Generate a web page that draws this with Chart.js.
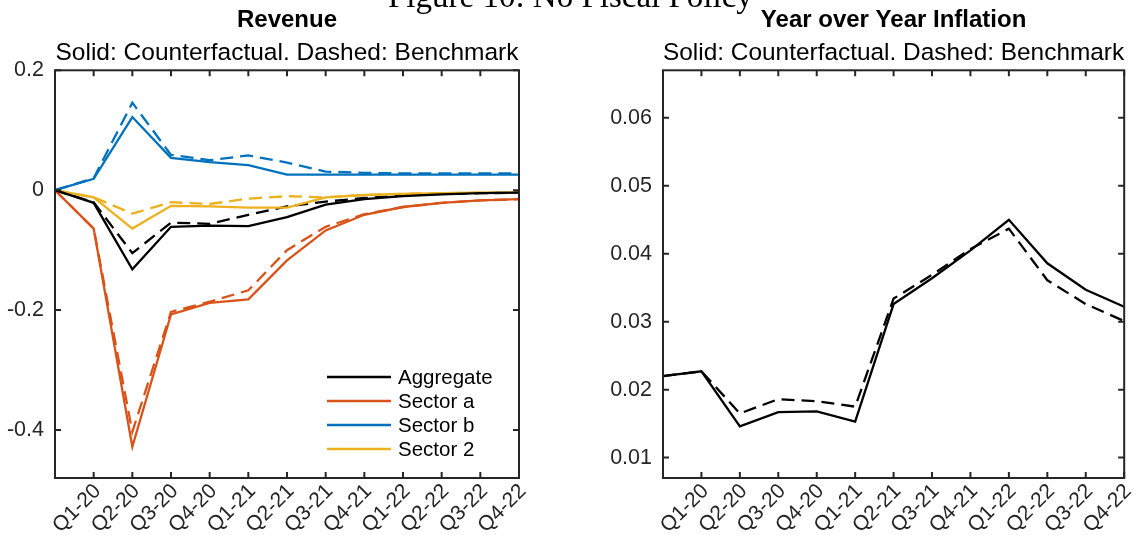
<!DOCTYPE html>
<html>
	<head>
		<meta charset="UTF-8" />
		<title>Figure 10: No Fiscal Policy</title>
		<script src="https://cdn.jsdelivr.net/npm/chart.js@4"></script>
		<style type="text/css">
			body {
				margin: 0;
				width: 1143px;
				height: 535px;
				overflow: hidden;
				background: #fff;
				position: relative;
			}
			.caption {
				position: absolute;
				left: 388px;
				top: -20px;
				font-family: "Liberation Serif", serif;
				font-size: 33px;
				line-height: 33px;
				white-space: nowrap;
				color: #000;
				z-index: 2;
			}
			#revChart {
				position: absolute;
				left: 0;
				top: 0;
			}
			#inflChart {
				position: absolute;
				left: 571px;
				top: 0;
			}
		</style>
	</head>
	<body>
		<div class="caption">Figure 10: No Fiscal Policy</div>
		<canvas id="revChart" width="571" height="535"></canvas>
		<canvas id="inflChart" width="572" height="535"></canvas>

		<script>
			// quarters on the x axis (first point is the pre-shock start, no label)
			const quarters = ['', 'Q1-20', 'Q2-20', 'Q3-20', 'Q4-20', 'Q1-21', 'Q2-21',
				'Q3-21', 'Q4-21', 'Q1-22', 'Q2-22', 'Q3-22', 'Q4-22'];

			// Revenue: solid = counterfactual, dashed = benchmark
			const aggCf  = [0, -0.021, -0.132, -0.061, -0.059, -0.060, -0.045, -0.024, -0.015, -0.010, -0.007, -0.005, -0.004];
			const aggBm  = [0, -0.020, -0.105, -0.054, -0.056, -0.041, -0.027, -0.019, -0.013, -0.009, -0.006, -0.005, -0.004];
			const secACf = [0, -0.064, -0.428, -0.207, -0.188, -0.182, -0.117, -0.067, -0.041, -0.028, -0.021, -0.017, -0.015];
			const secABm = [0, -0.064, -0.403, -0.203, -0.186, -0.167, -0.100, -0.061, -0.040, -0.028, -0.021, -0.017, -0.015];
			const secBCf = [0, 0.019, 0.122, 0.054, 0.047, 0.042, 0.026, 0.026, 0.026, 0.026, 0.026, 0.026, 0.026];
			const secBBm = [0, 0.020, 0.146, 0.059, 0.050, 0.058, 0.046, 0.031, 0.029, 0.028, 0.028, 0.028, 0.028];
			const sec2Cf = [0, -0.012, -0.064, -0.026, -0.027, -0.029, -0.029, -0.012, -0.008, -0.006, -0.005, -0.004, -0.004];
			const sec2Bm = [0, -0.012, -0.039, -0.020, -0.023, -0.014, -0.010, -0.012, -0.008, -0.006, -0.005, -0.004, -0.004];

			// Year over year inflation
			const inflCf = [0.0220, 0.0227, 0.0146, 0.0167, 0.0168, 0.0153, 0.0326, 0.0364, 0.0405, 0.0450, 0.0386, 0.0347, 0.0322];
			const inflBm = [0.0220, 0.0227, 0.0165, 0.0186, 0.0183, 0.0175, 0.0334, 0.0369, 0.0407, 0.0437, 0.0361, 0.0326, 0.0301];

			const revTicks = [-0.4, -0.2, 0, 0.2];
			const inflTicks = [0.01, 0.02, 0.03, 0.04, 0.05, 0.06];
			const subTitle = 'Solid: Counterfactual. Dashed: Benchmark';
		</script>

		<script>
		Chart.defaults.font.family = '"Liberation Sans", Arial, sans-serif';
		Chart.defaults.color = '#262626';

		const axisColor = '#262626';
		const dash = [13, 7];

		// box round the axes with inward ticks on all four sides (matlab style)
		const framePlugin = {
			id: 'frame',
			afterDatasetsDraw(chart) {
				const ctx = chart.ctx;
				const a = chart.chartArea;
				const x = chart.scales.x;
				const y = chart.scales.y;
				ctx.save();
				ctx.strokeStyle = axisColor;
				ctx.lineWidth = 2;
				ctx.beginPath();
				for (let i = 0; i < x.ticks.length; i++) {
					const px = x.getPixelForTick(i);
					ctx.moveTo(px, a.bottom); ctx.lineTo(px, a.bottom - 6);
					ctx.moveTo(px, a.top); ctx.lineTo(px, a.top + 6);
				}
				y.ticks.forEach(t => {
					const py = y.getPixelForValue(t.value);
					ctx.moveTo(a.left, py); ctx.lineTo(a.left + 6, py);
					ctx.moveTo(a.right, py); ctx.lineTo(a.right - 6, py);
				});
				ctx.stroke();
				ctx.strokeRect(a.left, a.top, a.right - a.left, a.bottom - a.top);
				ctx.restore();
			}
		};

		// legend inside the lower right of the revenue axes, solid lines only
		const innerLegend = {
			id: 'innerLegend',
			afterDraw(chart) {
				const ctx = chart.ctx;
				const a = chart.chartArea;
				const x0 = a.right - 192;
				let y0 = a.bottom - 101;
				ctx.save();
				ctx.font = '20.5px "Liberation Sans", Arial, sans-serif';
				ctx.textBaseline = 'middle';
				ctx.fillStyle = '#000';
				chart.data.datasets.filter(d => !d.benchmark).forEach(d => {
					ctx.strokeStyle = d.borderColor;
					ctx.lineWidth = 2.3;
					ctx.beginPath();
					ctx.moveTo(x0, y0);
					ctx.lineTo(x0 + 64, y0);
					ctx.stroke();
					ctx.fillText(d.label, x0 + 71, y0 + 1);
					y0 += 24;
				});
				ctx.restore();
			}
		};

		function line(label, data, color, benchmark) {
			return {
				label: label,
				data: data,
				borderColor: color,
				borderWidth: 2.3,
				borderDash: benchmark ? dash : [],
				pointRadius: 0,
				tension: 0,
				fill: false,
				benchmark: benchmark
			};
		}

		function makeOptions(title, yMin, yMax, yTicks, fmt, yWidth, padRight) {
			return {
				responsive: false,
				animation: false,
				devicePixelRatio: 1,
				layout: { padding: { left: 0, right: padRight, top: 0, bottom: 0 } },
				plugins: {
					legend: { display: false },
					tooltip: { enabled: false },
					title: {
						display: true,
						fullSize: false,
						text: title,
						color: '#000',
						font: { size: 24, weight: 'bold' },
						padding: { top: 6, bottom: 0 }
					},
					subtitle: {
						display: true,
						fullSize: false,
						text: subTitle,
						color: '#000',
						font: { size: 24.5, weight: 'normal' },
						padding: { top: 4, bottom: 2.1 }
					}
				},
				scales: {
					x: {
						type: 'category',
						offset: false,
						grid: { display: false, drawTicks: false },
						border: { display: false },
						ticks: {
							autoSkip: false,
							minRotation: 45,
							maxRotation: 45,
							padding: 1,
							labelOffset: 4,
							color: axisColor,
							font: { size: 21 }
						},
						afterFit: s => { s.height = 57; }
					},
					y: {
						type: 'linear',
						min: yMin,
						max: yMax,
						grid: { display: false, drawTicks: false },
						border: { display: false },
						afterBuildTicks: s => { s.ticks = yTicks.map(v => ({ value: v })); },
						ticks: {
							padding: 11,
							color: axisColor,
							font: { size: 21.5 },
							callback: fmt
						},
						afterFit: s => { s.width = yWidth; }
					}
				}
			};
		}

		const revChart = new Chart(document.getElementById('revChart').getContext('2d'), {
			type: 'line',
			data: {
				labels: quarters,
				datasets: [
					line('Aggregate', aggCf, '#000000', false),
					line('Sector a', secACf, '#D95319', false),
					line('Sector b', secBCf, '#0072BD', false),
					line('Sector 2', sec2Cf, '#EDB120', false),
					line('Aggregate (benchmark)', aggBm, '#000000', true),
					line('Sector a (benchmark)', secABm, '#D95319', true),
					line('Sector b (benchmark)', secBBm, '#0072BD', true),
					line('Sector 2 (benchmark)', sec2Bm, '#EDB120', true)
				]
			},
			options: makeOptions('Revenue', -0.48, 0.2, revTicks,
				v => (v === 0 ? '0' : v.toFixed(1)), 55, 52),
			plugins: [framePlugin, innerLegend]
		});

		const inflChart = new Chart(document.getElementById('inflChart').getContext('2d'), {
			type: 'line',
			data: {
				labels: quarters,
				datasets: [
					line('Counterfactual', inflCf, '#000000', false),
					line('Benchmark', inflBm, '#000000', true)
				]
			},
			options: makeOptions('Year over Year Inflation', 0.007, 0.067, inflTicks,
				v => v.toFixed(2), 92, 16),
			plugins: [framePlugin]
		});
		</script>
	</body>
</html>
